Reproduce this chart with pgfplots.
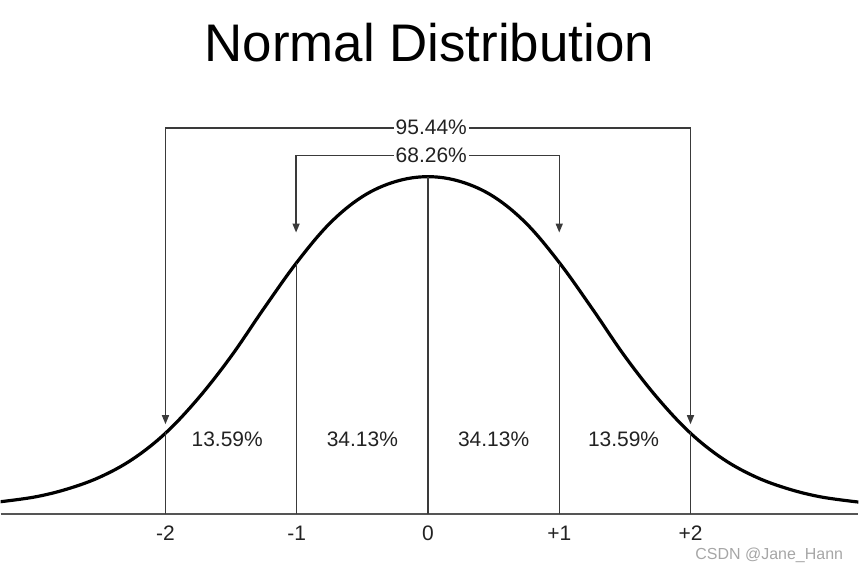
\documentclass[border=0pt]{standalone}
\usepackage{pgfplots}
\pgfplotsset{compat=1.18}
\usepackage{fontspec}
\setmainfont{Liberation Sans}
\usetikzlibrary{arrows.meta}
\definecolor{linegray}{HTML}{3A3A3A}
\definecolor{axisgray}{HTML}{555555}
\definecolor{txt}{HTML}{222222}
\begin{document}
\begin{tikzpicture}
\begin{axis}[
  x=131.5pt, y=1pt,
  xmin=-3.255, xmax=3.278, ymin=-49, ymax=515,
  axis x line*=middle, axis y line=none,
  axis line style={axisgray, line width=1.5pt},
  xtick={-2,-1,0,1,2},
  xticklabels={-2,-1,0,+1,+2},
  major tick length=0pt,
  xticklabel style={font=\fontsize{21}{25}\selectfont, text=txt, anchor=north,
    text height=15pt, text depth=0pt, yshift=-8pt},
  clip=true,
]
% curve (heights, pixel units above the axis line)
\addplot[black, line width=3.2pt, smooth, tension=0.6] coordinates {
 (-3.28,12) (-3.0,17) (-2.75,25) (-2.5,37) (-2.25,55) (-2.0,81) (-1.75,116)
 (-1.5,158) (-1.25,206) (-1.0,252) (-0.75,291) (-0.5,318) (-0.25,333) (0,338)
 (0.25,333) (0.5,318) (0.75,291) (1.0,252) (1.25,206) (1.5,158) (1.75,116)
 (2.0,81) (2.25,55) (2.5,37) (2.75,25) (3.0,17) (3.28,12)
};
% vertical lines from axis to curve
\addplot[linegray, line width=1.5pt] coordinates {(-2,0) (-2,82)};
\addplot[linegray, line width=1.5pt] coordinates {(-1,0) (-1,252)};
\addplot[linegray, line width=1.5pt] coordinates {(0,0) (0,338)};
\addplot[linegray, line width=1.5pt] coordinates {(1,0) (1,252)};
\addplot[linegray, line width=1.5pt] coordinates {(2,0) (2,82)};
% brackets
\draw[linegray, line width=1.5pt, {Triangle[length=9pt,width=7pt]}-{Triangle[length=9pt,width=7pt]}]
  (axis cs:-2,90) -- (axis cs:-2,387) -- (axis cs:2,387) -- (axis cs:2,90);
\draw[linegray, line width=1.5pt, {Triangle[length=9pt,width=7pt]}-{Triangle[length=9pt,width=7pt]}]
  (axis cs:-1.005,282) -- (axis cs:-1.005,359) -- (axis cs:1.0,359) -- (axis cs:1.0,282);
\node[fill=white, inner sep=2pt, text=txt, font=\fontsize{21}{25}\selectfont] at (axis cs:0.025,387) {95.44\%};
\node[fill=white, inner sep=2pt, text=txt, font=\fontsize{21}{25}\selectfont] at (axis cs:0.025,359) {68.26\%};
% region labels
\node[text=txt, font=\fontsize{21}{25}\selectfont] at (axis cs:-1.53,75) {13.59\%};
\node[text=txt, font=\fontsize{21}{25}\selectfont] at (axis cs:-0.50,75) {34.13\%};
\node[text=txt, font=\fontsize{21}{25}\selectfont] at (axis cs:0.50,75) {34.13\%};
\node[text=txt, font=\fontsize{21}{25}\selectfont] at (axis cs:1.49,75) {13.59\%};
% title
\node[black, font=\fontsize{53}{60}\selectfont] at (axis cs:0.01,472) {Normal Distribution};
% watermark
\node[gray!70, font=\fontsize{16}{19}\selectfont, inner sep=0pt] at (axis cs:2.6,-41) {CSDN @Jane\_Hann};
\path (rel axis cs:0,0) rectangle (rel axis cs:1,1);
\end{axis}
\end{tikzpicture}
\end{document}
